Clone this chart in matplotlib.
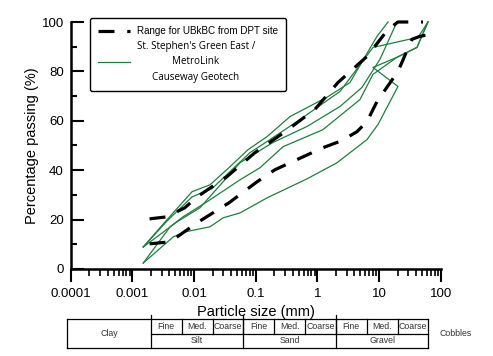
import matplotlib.pyplot as plt
from matplotlib.ticker import LogLocator, NullFormatter

plt.rcParams['font.family'] = ['Liberation Sans', 'DejaVu Sans']

# DPT range for UBkBC (fine and coarse bounds)
range_fine_x = [0.0019, 0.0036, 0.0071, 0.0112, 0.0342, 0.097, 0.30, 0.91, 2.16, 6.4, 14.0, 20.3, 51.6]
range_fine_y = [20.3, 21.1, 24.8, 29.2, 37.4, 47.1, 55.6, 64.6, 75.5, 86.1, 97.0, 100, 100]
range_coarse_x = [0.0019, 0.0041, 0.0112, 0.0369, 0.105, 0.206, 0.36, 1.23, 2.51, 4.39, 6.38, 9.27, 20.3, 34.2, 46.1, 83.9]
range_coarse_y = [10.2, 11.0, 18.7, 26.8, 35.3, 40.2, 43.0, 49.1, 52.0, 55.6, 59.7, 67.8, 80.0, 93.0, 94.2, 95.4]

# St. Stephen's Green East / MetroLink grading curves
ssg1_x = [0.0015, 0.0034, 0.0093, 0.0182, 0.0383, 0.075, 0.153, 0.36, 1.49, 3.38, 9.27, 14.0]
ssg1_y = [8.9, 19.1, 31.3, 34.1, 41.4, 48.3, 53.6, 61.7, 69.8, 75.5, 94.2, 100]
ssg2_x = [0.0015, 0.0038, 0.0093, 0.0195, 0.0413, 0.0807, 0.171, 0.522, 2.33, 7.98, 42.9, 62.2]
ssg2_y = [8.9, 19.9, 29.2, 32.5, 40.2, 47.1, 52.4, 60.5, 71.9, 89.7, 93.8, 100]
ssg3_x = [0.0015, 0.0053, 0.0125, 0.0556, 0.19, 0.68, 2.33, 5.29, 10.35, 19.5]
ssg3_y = [8.9, 19.1, 24.8, 43.0, 51.2, 57.7, 65.8, 73.5, 84.9, 100]
ssg4_x = [0.0015, 0.0041, 0.0066, 0.0162, 0.0556, 0.1175, 0.277, 1.23, 4.91, 7.98, 19.5, 41.2, 62.2]
ssg4_y = [2.4, 17.1, 21.1, 27.2, 36.1, 41.0, 49.5, 56.4, 68.6, 78.8, 85.7, 89.7, 100]
ssg5_x = [0.0015, 0.0046, 0.0071, 0.0182, 0.0295, 0.0556, 0.1175, 0.153, 0.68, 2.08, 6.38, 9.62, 20.3, 7.98, 19.5, 41.2, 62.2]
ssg5_y = [2.4, 13.0, 15.0, 17.1, 20.7, 22.7, 27.2, 28.8, 36.5, 43.0, 52.4, 58.5, 73.9, 81.6, 85.7, 89.7, 100]

decades = [0.0001, 0.001, 0.01, 0.1, 1, 10, 100]
decade_labels = ['0.0001', '0.001', '0.01', '0.1', '1', '10', '100']

# soil classification strip
class_edges = [8.7e-5, 0.002, 0.063, 2, 63]
class_names = ['Clay', 'Silt', 'Sand', 'Gravel']
sub_edges = [0.002, 0.0063, 0.02, 0.063, 0.2, 0.63, 2, 6.3, 20, 63]
sub_names = ['Fine', 'Med.', 'Coarse'] * 3

green = '#1f7f3f'

fig = plt.figure(figsize=(4.93, 3.56), dpi=100)
ax = fig.add_axes([0.1434, 0.2444, 0.7505, 0.6938])
ax.set_xscale('log')

curves = [(ssg1_x, ssg1_y), (ssg2_x, ssg2_y), (ssg3_x, ssg3_y), (ssg4_x, ssg4_y), (ssg5_x, ssg5_y)]
green_lines = []
for cx, cy in curves:
    ln, = ax.plot(cx, cy, color=green, lw=0.9, clip_on=False)
    green_lines.append(ln)

blk, = ax.plot(range_fine_x, range_fine_y, color='black', lw=2.3, dashes=(5, 4), clip_on=False)
ax.plot(range_coarse_x, range_coarse_y, color='black', lw=2.3, dashes=(5, 4), clip_on=False)

ax.set_xlim(1e-4, 100)
ax.set_ylim(0, 100)
for s in ['top', 'right']:
    ax.spines[s].set_visible(False)
for s in ['left', 'bottom']:
    ax.spines[s].set_linewidth(1.8)

ax.set_xticks(decades)
ax.set_xticklabels(decade_labels)
ax.xaxis.set_minor_locator(LogLocator(base=10, subs=range(2, 10)))
ax.xaxis.set_minor_formatter(NullFormatter())
ax.tick_params(axis='x', which='major', direction='out', length=9, width=1.5, labelsize=9.5, pad=5)
ax.tick_params(axis='x', which='minor', direction='out', length=5, width=1.2)
ax.set_yticks(range(0, 101, 20))
ax.set_yticks(range(10, 100, 20), minor=True)
ax.tick_params(axis='y', which='major', direction='in', length=9, width=1.5, labelsize=9.5, pad=5)
ax.tick_params(axis='y', which='minor', direction='in', length=4.5, width=1.5)

ax.set_xlabel('Particle size (mm)', fontsize=10.5, labelpad=3.5)
ax.set_ylabel('Percentage passing (%)', fontsize=10.5, labelpad=2)

leg = ax.legend([blk, green_lines[0]],
                ['Range for UBkBC from DPT site', "St. Stephen's Green East /\nMetroLink\nCauseway Geotech"],
                loc='upper left', bbox_to_anchor=(90 / 493, 1 - 18 / 356), bbox_transform=fig.transFigure,
                borderaxespad=0, fontsize=7.1, fancybox=True, edgecolor='black', framealpha=1,
                handlelength=3.2, handletextpad=0.7, borderpad=0.85, labelspacing=0.45)
leg.get_frame().set_linewidth(1.0)
t_green = leg.get_texts()[1]
t_green.set_fontfamily('Open Sans')
t_green.set_multialignment('center')
t_green.set_linespacing(1.55)

# classification table under the axis
tab = fig.add_axes([0.1434, 1 - 348 / 356, 0.7505, 29 / 356])
tab.set_xscale('log')
tab.set_xlim(1e-4, 100)
tab.set_ylim(0, 2)
tab.axis('off')
lkw = dict(color='black', lw=0.9, clip_on=False)
tab.plot([class_edges[0], class_edges[-1]], [0, 0], **lkw)
tab.plot([class_edges[0], class_edges[-1]], [2, 2], **lkw)
tab.plot([class_edges[1], class_edges[-1]], [1, 1], **lkw)
tab.plot([class_edges[0], class_edges[0]], [0, 2], **lkw)
tab.plot([class_edges[-1], class_edges[-1]], [0, 2], **lkw)
for e in class_edges[1:-1]:
    tab.plot([e, e], [0, 2.3], **lkw)
for e in sub_edges[1:-1]:
    tab.plot([e, e], [1, 2], **lkw)

tkw = dict(ha='center', va='center', fontsize=6.3, color='#333333')
tab.text((class_edges[0] * class_edges[1]) ** 0.5, 1, class_names[0], **tkw)
for i in range(1, 4):
    tab.text((class_edges[i] * class_edges[i + 1]) ** 0.5, 0.5, class_names[i], **tkw)
for i, nm in enumerate(sub_names):
    tab.text((sub_edges[i] * sub_edges[i + 1]) ** 0.5, 1.5, nm, **tkw)
tab.text(177, 1, 'Cobbles', **tkw)

fig.savefig('out.png', dpi=100)
